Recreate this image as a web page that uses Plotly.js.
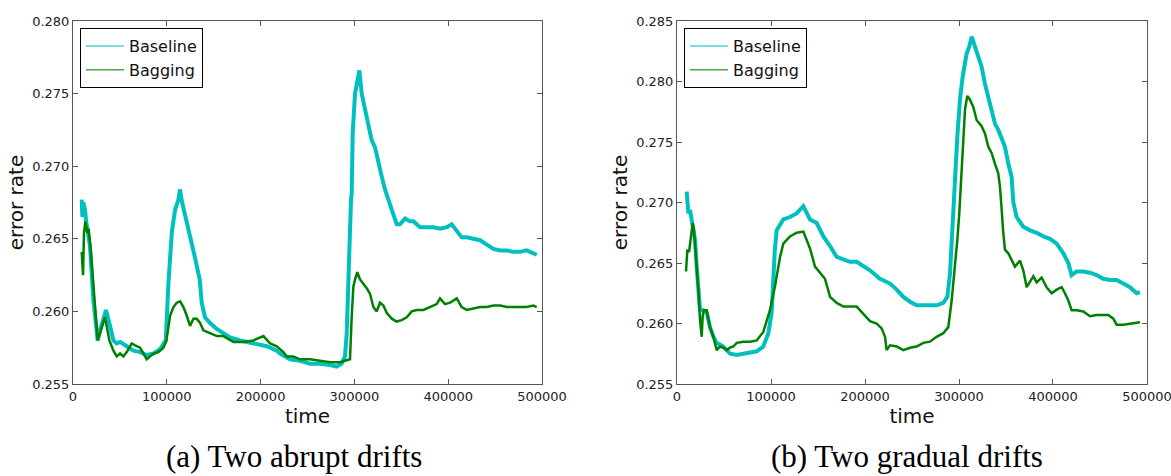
<!DOCTYPE html>
<html>
<head>
<meta charset="utf-8">
<script src="https://cdn.plot.ly/plotly-3.0.1.min.js"></script>
<style>html,body{margin:0;padding:0;background:#fff;}#chart{width:1171px;height:476px;}</style>
</head>
<body>
<div id="chart"></div>
<script>
// ---- Panel (a): two abrupt drifts ----
const abruptBaselineTime = [9300,10000,11000,12800,14000,16400,18100,21700,25300,26300,28800,32400,35200,39500,43100,46600,50200,57300,64400,71500,78600,85800,92900,98900,101700,105300,108800,112400,114000,116000,119000,124400,129700,135100,137200,140700,146100,153200,160300,167400,178100,192300,206600,217200,220700,231400,242000,252700,263300,274000,281100,286400,290000,291800,293600,295300,296400,297100,298200,300700,303100,305300,307800,311300,314900,318400,322000,325500,329100,332600,336200,338000,341500,345100,348600,354000,359300,362900,366400,370000,377100,384200,391300,398400,403700,409100,414400,419700,426800,433900,441100,448200,455300,462400,469500,476600,483700,490800,494400];
const abruptBaseline = [0.2677,0.2665,0.2675,0.2670,0.2662,0.2654,0.2645,0.2608,0.2585,0.2580,0.2587,0.2594,0.2601,0.2590,0.2580,0.2578,0.2579,0.2576,0.2573,0.2572,0.2570,0.2571,0.2574,0.2580,0.2619,0.2654,0.2670,0.2677,0.2684,0.2676,0.2668,0.2651,0.2638,0.2622,0.2606,0.2596,0.2592,0.2588,0.2585,0.2582,0.2580,0.2578,0.2576,0.2573,0.2571,0.2567,0.2566,0.2564,0.2564,0.2563,0.2562,0.2564,0.2569,0.2585,0.2631,0.2654,0.2677,0.2681,0.2723,0.2750,0.2757,0.2766,0.2750,0.2739,0.2727,0.2718,0.2713,0.2702,0.2693,0.2684,0.2677,0.2672,0.2665,0.2660,0.2660,0.2664,0.2662,0.2662,0.2660,0.2658,0.2658,0.2658,0.2657,0.2658,0.2660,0.2655,0.2651,0.2651,0.2650,0.2649,0.2646,0.2643,0.2642,0.2642,0.2641,0.2641,0.2642,0.2640,0.2639];

const abruptBaggingTime = [9300,10700,11700,13200,15300,16700,18900,21000,23500,25300,26300,28800,32400,34200,35900,38800,43100,46600,50200,53700,57300,62600,68000,71500,75100,78600,82200,85800,91100,96400,99600,101700,103500,107100,110600,114200,117700,121300,124800,128400,131900,135500,139000,146100,153200,160300,171000,181700,192300,203000,210100,217200,224300,227800,234900,242000,252700,263300,274000,284700,291800,295300,297100,298900,300700,303100,306000,309600,313100,316700,320200,323800,327300,330900,334400,339800,345100,350400,355800,361100,366400,373500,380600,387700,391300,396600,402000,409100,414400,419700,426800,433900,441100,448200,455300,462400,469500,476600,483700,490800,494400];
const abruptBagging = [0.2641,0.2625,0.2654,0.2662,0.2654,0.2657,0.2642,0.2624,0.2601,0.2585,0.2580,0.2585,0.2592,0.2596,0.2590,0.2580,0.2573,0.2569,0.2571,0.2569,0.2572,0.2578,0.2576,0.2575,0.2571,0.2567,0.2569,0.2571,0.2572,0.2575,0.2580,0.2589,0.2597,0.2603,0.2606,0.2607,0.2603,0.2597,0.2590,0.2595,0.2595,0.2592,0.2587,0.2585,0.2583,0.2583,0.2579,0.2579,0.2580,0.2583,0.2578,0.2576,0.2572,0.2569,0.2569,0.2567,0.2567,0.2566,0.2565,0.2565,0.2566,0.2567,0.2596,0.2617,0.2622,0.2627,0.2622,0.2619,0.2616,0.2612,0.2603,0.2600,0.2606,0.2604,0.2599,0.2595,0.2593,0.2594,0.2596,0.2600,0.2601,0.2601,0.2603,0.2605,0.2609,0.2605,0.2606,0.2609,0.2603,0.2601,0.2602,0.2603,0.2603,0.2604,0.2604,0.2603,0.2603,0.2603,0.2603,0.2604,0.2603];

// ---- Panel (b): two gradual drifts ----
const gradualBaselineTime = [10300,12100,13800,15600,17400,19200,20900,22700,24500,28000,31600,35100,38700,42200,49300,56400,63500,70600,77700,84800,91800,97200,100700,101800,104000,106000,113100,120200,127300,134400,141500,148600,155700,162800,169900,177000,184000,191100,198200,205300,215900,226600,233700,240800,247900,254900,262000,269100,276200,283300,287600,290400,292200,295700,298200,301000,303900,308100,311000,313500,317000,320500,324100,327600,331200,334700,338300,341800,345400,348900,352500,356000,357800,361300,368400,375500,382600,389700,396800,403900,411000,416300,419800,425200,432200,439300,446400,453500,460600,467700,474800,481900,489000,492500];
const gradualBaseline = [0.2709,0.2691,0.2694,0.2686,0.2680,0.2669,0.2647,0.2628,0.2611,0.2611,0.2609,0.2597,0.2589,0.2584,0.2581,0.2575,0.2574,0.2575,0.2576,0.2577,0.2581,0.2592,0.2609,0.2634,0.2660,0.2677,0.2686,0.2688,0.2691,0.2697,0.2686,0.2683,0.2672,0.2664,0.2655,0.2653,0.2651,0.2651,0.2647,0.2644,0.2637,0.2633,0.2628,0.2622,0.2618,0.2615,0.2615,0.2615,0.2615,0.2617,0.2622,0.2641,0.2669,0.2708,0.2754,0.2785,0.2804,0.2823,0.2829,0.2837,0.2829,0.2821,0.2812,0.2798,0.2787,0.2776,0.2765,0.2760,0.2752,0.2746,0.2732,0.2721,0.2700,0.2688,0.2680,0.2677,0.2675,0.2672,0.2670,0.2666,0.2658,0.2650,0.2640,0.2643,0.2643,0.2642,0.2640,0.2637,0.2636,0.2636,0.2633,0.2630,0.2625,0.2626];

const gradualBaggingTime = [9600,11000,12800,14500,16700,18100,19500,20900,22700,24500,26300,27300,28700,31600,35100,38700,42200,45700,49300,52800,56400,59900,63500,70600,77700,84800,91800,98900,104300,109600,113100,120200,127300,134400,138000,141500,146800,152100,157400,162800,169900,177000,184000,191100,198200,205300,212400,217700,221300,223000,226600,233700,240800,247900,254900,262000,269100,276200,283300,288600,292200,295700,298200,300300,301800,304600,306400,308800,311700,315200,318800,324100,327600,331200,334700,338300,341800,343600,344300,345400,347100,348900,352500,356000,359500,364900,368400,372000,375500,379100,382600,387900,393200,398600,403900,409200,412700,416300,419800,425200,432200,439300,446400,453500,458800,464200,467700,474800,481900,489000,492500];
const gradualBagging = [0.2643,0.2661,0.2659,0.2672,0.2683,0.2677,0.2664,0.2647,0.2628,0.2603,0.2589,0.2606,0.2611,0.2611,0.2597,0.2589,0.2578,0.2581,0.2580,0.2578,0.2580,0.2581,0.2584,0.2585,0.2585,0.2586,0.2593,0.2611,0.2631,0.2655,0.2666,0.2672,0.2675,0.2676,0.2669,0.2662,0.2647,0.2642,0.2637,0.2622,0.2617,0.2614,0.2614,0.2614,0.2608,0.2602,0.2600,0.2596,0.2589,0.2578,0.2582,0.2581,0.2578,0.2580,0.2581,0.2584,0.2585,0.2589,0.2592,0.2597,0.2619,0.2647,0.2669,0.2691,0.2710,0.2752,0.2777,0.2788,0.2785,0.2779,0.2768,0.2763,0.2757,0.2746,0.2741,0.2732,0.2724,0.2713,0.2702,0.2694,0.2675,0.2661,0.2658,0.2652,0.2647,0.2652,0.2644,0.2630,0.2634,0.2639,0.2634,0.2638,0.2630,0.2625,0.2628,0.2630,0.2625,0.2619,0.2611,0.2611,0.2610,0.2606,0.2607,0.2607,0.2607,0.2604,0.2599,0.2599,0.2600,0.2601,0.2601];

const seriesNames = ["Baseline", "Bagging"];
const captions = ["(a) Two abrupt drifts", "(b) Two gradual drifts"];
const xTitle = "time";
const yTitle = "error rate";

const CYAN = "#00BFBF", GREEN = "#008000";
const font = "DejaVu Sans, Arial, sans-serif";

function dataTrace(x, y, color, width, xa, ya) {
  return {x: x, y: y, type: "scatter", mode: "lines", line: {color: color, width: width},
          xaxis: xa, yaxis: ya, showlegend: false, hoverinfo: "skip"};
}
function legendTrace(name, color, xa, ya, leg) {
  return {x: [null], y: [null], name: name, type: "scatter", mode: "lines",
          line: {color: color, width: 1.6}, opacity: 0.7, xaxis: xa, yaxis: ya, legend: leg, showlegend: true};
}

const traces = [
  dataTrace(abruptBaselineTime, abruptBaseline, CYAN, 4, "x", "y"),
  dataTrace(abruptBaggingTime, abruptBagging, GREEN, 2.5, "x", "y"),
  dataTrace(gradualBaselineTime, gradualBaseline, CYAN, 4, "x2", "y2"),
  dataTrace(gradualBaggingTime, gradualBagging, GREEN, 2.5, "x2", "y2"),
  legendTrace(seriesNames[0], CYAN, "x", "y", "legend"),
  legendTrace(seriesNames[1], GREEN, "x", "y", "legend"),
  legendTrace(seriesNames[0], CYAN, "x2", "y2", "legend2"),
  legendTrace(seriesNames[1], GREEN, "x2", "y2", "legend2")
];

function xax(domain, anchor) {
  return {domain: domain, anchor: anchor, range: [0, 500000], dtick: 100000, tick0: 0, tickformat: "d",
    showline: true, linecolor: "#555", linewidth: 1, mirror: "ticks", ticks: "inside", ticklen: 5,
    tickcolor: "#555", showgrid: false, zeroline: false, ticklabeloverflow: "allow",
    tickfont: {family: font, size: 13, color: "#222"},
    title: {text: xTitle, font: {family: font, size: 20, color: "#111"}, standoff: 5}};
}
function yax(domain, anchor, range) {
  return {domain: domain, anchor: anchor, range: range, dtick: 0.005, tick0: 0.255, tickformat: ".3f",
    showline: true, linecolor: "#555", linewidth: 1, mirror: "ticks", ticks: "inside", ticklen: 5,
    tickcolor: "#555", showgrid: false, zeroline: false, ticklabeloverflow: "allow",
    tickfont: {family: font, size: 13, color: "#222"},
    title: {text: yTitle, font: {family: font, size: 20, color: "#111"}, standoff: 3}};
}

const legendStyle = (x) => ({x: x, y: 0.941, xanchor: "left", yanchor: "top", bgcolor: "#fff",
  bordercolor: "#000", borderwidth: 1, itemwidth: 38, font: {family: font, size: 16, color: "#111"}, tracegroupgap: 0});

const layout = {
  width: 1171, height: 476, margin: {l: 0, r: 0, t: 0, b: 0},
  paper_bgcolor: "#fff", plot_bgcolor: "#fff", showlegend: true,
  xaxis: xax([0.06234, 0.46285], "y"),
  yaxis: yax([0.19328, 0.95588], "x", [0.255, 0.280]),
  xaxis2: xax([0.57814, 0.97950], "y2"),
  yaxis2: yax([0.19328, 0.95588], "x2", [0.255, 0.285]),
  legend: legendStyle(0.0683),
  legend2: legendStyle(0.5841),
  annotations: [
    {text: captions[0], xref: "paper", yref: "paper", x: 294/1171, y: 20/476, xanchor: "center", yanchor: "middle",
     showarrow: false, font: {family: "Liberation Serif, DejaVu Serif, serif", size: 31, color: "#000"}},
    {text: captions[1], xref: "paper", yref: "paper", x: 907/1171, y: 20/476, xanchor: "center", yanchor: "middle",
     showarrow: false, font: {family: "Liberation Serif, DejaVu Serif, serif", size: 31, color: "#000"}}
  ]
};

Plotly.newPlot("chart", traces, layout, {staticPlot: true, displayModeBar: false});
</script>
</body>
</html>
